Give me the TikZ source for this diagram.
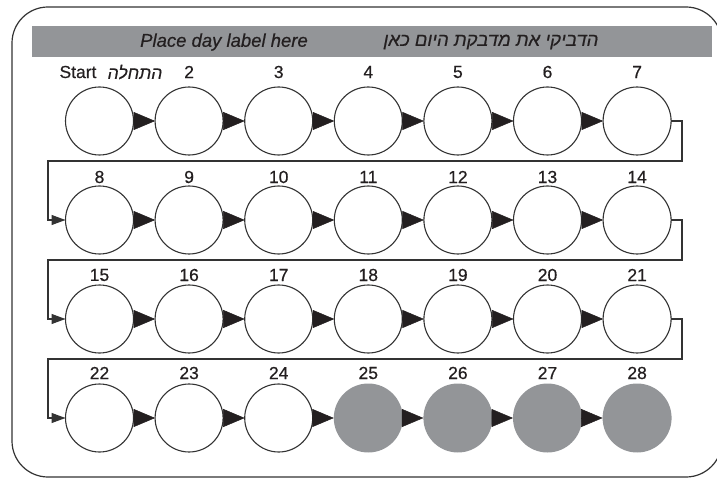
\documentclass[tikz,border=0pt]{standalone}
\usepackage{fontspec}
\setmainfont[FakeBold=0.5]{Liberation Sans}
\newfontfamily\hebfont[Script=Hebrew,FakeBold=0.5]{Liberation Sans}
\TeXXeTstate=1
\usetikzlibrary{arrows.meta}
\definecolor{bargray}{HTML}{939598}
\definecolor{ink}{HTML}{231F20}
\definecolor{linegray}{HTML}{333333}
\tikzset{
  day/.style={circle, draw=linegray, line width=1.1pt, minimum size=68pt, inner sep=0pt, outer sep=0pt, fill=white},
  dayg/.style={circle, fill=bargray, minimum size=69pt, inner sep=0pt, outer sep=0pt},
  lbl/.style={font=\fontsize{17.5}{20}\selectfont, text=ink, inner sep=0pt},
  bartxt/.style={font=\fontsize{18.5}{22}\selectfont, text=ink, inner sep=0pt},
  tri/.style={-{Triangle[length=21.5pt,width=18pt]}, draw=ink, fill=ink, line width=0.5pt},
  conn/.style={draw=linegray, line width=1.1pt, -{Triangle[length=14pt,width=10pt]}},
}
\begin{document}
\begin{tikzpicture}[x=1pt,y=-1pt]
\useasboundingbox (0,0) rectangle (717,478);
\clip (0,0) rectangle (717,478);
\draw[linegray, line width=1.2pt, rounded corners=36pt] (12,7) rectangle (722,477);
\node[fill=bargray, minimum width=680pt, minimum height=31pt, inner sep=0pt, anchor=north west] (bar) at (32,26) {};
\node[bartxt] (tl) at (224,42) {\itshape Place day label here};
\node[bartxt] (th) at (491,42) {\hebfont\itshape\beginR הדביקי את מדבקת היום כאן\endR};
\node[lbl] (st) at (78,72) {Start};
\node[lbl] (sh) at (135,72) {\hebfont\itshape\beginR התחלה\endR};
\foreach \i in {1,...,28}{
  \pgfmathtruncatemacro\col{mod(\i-1,7)}
  \pgfmathtruncatemacro\row{div(\i-1,7)}
  \pgfmathsetmacro\xx{99.5+89.6*\col}
  \pgfmathsetmacro\yy{121+99*\row}
  \pgfmathsetmacro\ly{\row==0 ? 72 : (\row==1 ? 177 : (\row==2 ? 275 : 373))}
  \ifnum\i>24
    \node[dayg] (c\i) at (\xx,\yy) {};
  \else
    \node[day] (c\i) at (\xx,\yy) {};
  \fi
  \ifnum\i>1
    \node[lbl] (n\i) at (\xx,\ly) {\i};
  \fi
}
\foreach \i in {1,...,27}{
  \pgfmathtruncatemacro\m{mod(\i,7)}
  \pgfmathtruncatemacro\j{\i+1}
  \ifnum\m>0
    \draw[tri] (c\i) -- (c\j);
  \fi
}
\foreach \k/\y in {1/161,2/260,3/359}{
  \coordinate (r\k) at (682,\y);
  \coordinate (l\k) at (48,\y);
}
\draw[conn] (c7.east) -| (r1) -- (l1) |- (c8.west);
\draw[conn] (c14.east) -| (r2) -- (l2) |- (c15.west);
\draw[conn] (c21.east) -| (r3) -- (l3) |- (c22.west);
\end{tikzpicture}
\end{document}
